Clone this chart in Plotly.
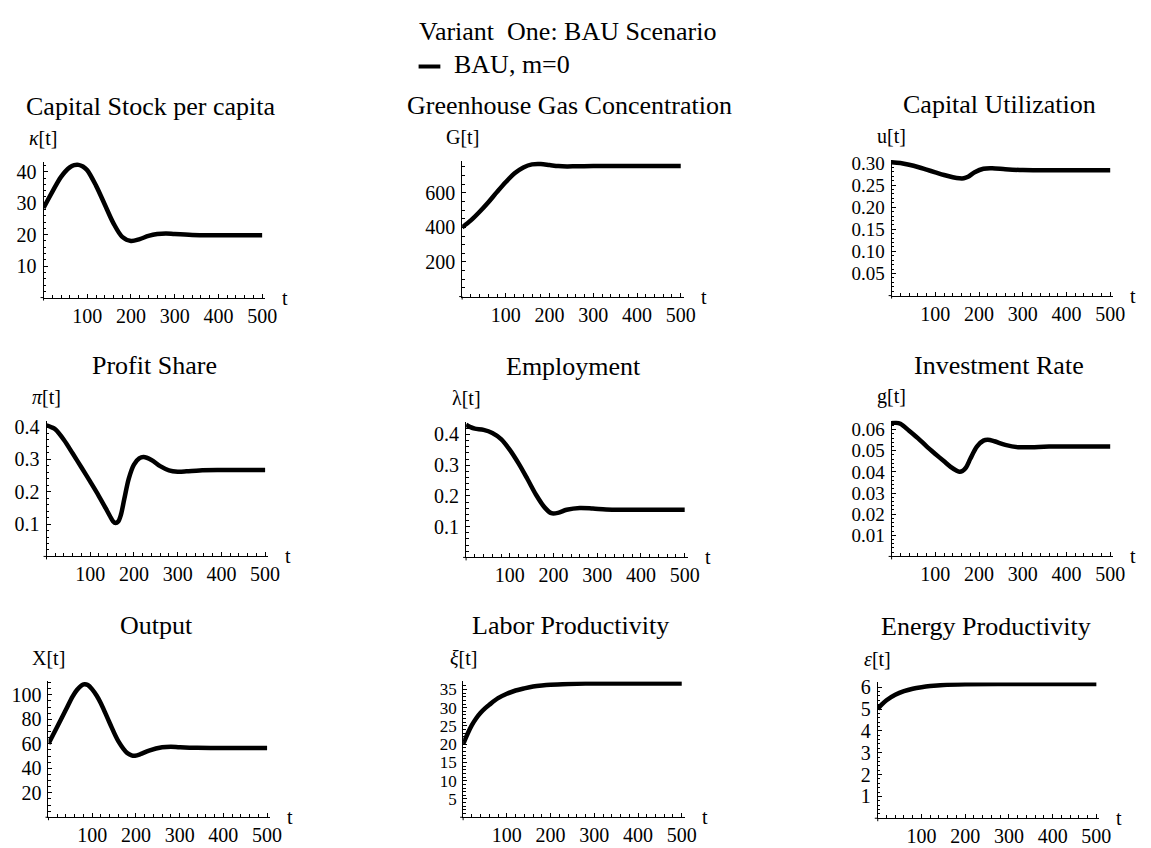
import plotly.graph_objects as go

FONT = "Liberation Serif"
W, H = 1151, 848

# ---- simulated trajectories (BAU, m=0) ----
t_kappa = [0, 20, 40, 60, 70, 80, 90, 100, 120, 140, 160, 180, 200, 220, 240, 260, 280, 300, 340, 380, 440, 500]
kappa = [28.5, 33.6, 38.4, 41.4, 42.1, 42.2, 41.7, 40.5, 35.6, 29.6, 23.6, 19.3, 18.0, 18.6, 19.6, 20.2, 20.4, 20.2, 19.9, 19.8, 19.8, 19.8]

t_G = [0, 20, 40, 60, 80, 100, 120, 140, 160, 180, 200, 220, 240, 260, 300, 400, 500]
G = [400, 440, 490, 545, 605, 662, 712, 746, 764, 766, 760, 754, 752, 753, 755, 755, 755]

t_u = [0, 20, 40, 60, 80, 100, 120, 140, 155, 165, 175, 190, 210, 230, 260, 300, 340, 420, 500]
u = [0.302, 0.300, 0.296, 0.291, 0.285, 0.279, 0.273, 0.268, 0.2655, 0.2655, 0.269, 0.279, 0.287, 0.288, 0.286, 0.284, 0.2835, 0.2835, 0.2835]

t_pi = [0, 10, 20, 40, 60, 80, 100, 120, 135, 145, 152, 158, 164, 170, 178, 188, 200, 212, 222, 240, 260, 280, 300, 320, 350, 400, 500]
pi_share = [0.405, 0.400, 0.393, 0.360, 0.318, 0.275, 0.231, 0.186, 0.150, 0.125, 0.109, 0.103, 0.108, 0.128, 0.178, 0.240, 0.284, 0.303, 0.307, 0.298, 0.279, 0.266, 0.262, 0.263, 0.266, 0.267, 0.267]

t_lam = [0, 10, 20, 40, 60, 80, 100, 120, 140, 160, 180, 195, 210, 230, 260, 290, 320, 360, 500]
lam = [0.432, 0.424, 0.419, 0.415, 0.405, 0.385, 0.350, 0.306, 0.256, 0.204, 0.162, 0.144, 0.145, 0.155, 0.161, 0.159, 0.156, 0.155, 0.155]

t_g = [0, 10, 20, 40, 60, 80, 100, 120, 135, 147, 155, 162, 170, 180, 195, 210, 220, 235, 260, 290, 320, 360, 500]
g = [0.0632, 0.0633, 0.0628, 0.0595, 0.0560, 0.0521, 0.0485, 0.0450, 0.0424, 0.0408, 0.0401, 0.0404, 0.0420, 0.0462, 0.0520, 0.0548, 0.0552, 0.0545, 0.0528, 0.0517, 0.0517, 0.0520, 0.0520]

t_X = [0, 20, 40, 55, 65, 75, 82, 90, 100, 110, 120, 140, 160, 180, 190, 198, 210, 230, 260, 280, 300, 340, 500]
X = [60, 74, 88, 98.6, 104, 107.6, 108.6, 108, 104.5, 99.5, 93, 77, 62, 52.5, 50.6, 50.3, 51.5, 54.5, 57.2, 57.6, 57.2, 56.7, 56.6]

t_xi = [0, 10, 20, 30, 40, 50, 60, 80, 100, 120, 140, 160, 180, 200, 240, 280, 500]
xi = [20.0, 22.8, 25.2, 27.1, 28.6, 29.8, 30.8, 32.6, 33.8, 34.7, 35.3, 35.8, 36.1, 36.3, 36.5, 36.6, 36.6]

t_eps = [0, 10, 20, 40, 60, 80, 100, 120, 150, 200, 300, 500]
eps = [5.0, 5.22, 5.4, 5.65, 5.82, 5.93, 6.0, 6.05, 6.1, 6.13, 6.15, 6.15]

# ---- panel titles, axis labels and ticks ----
titles = ["Capital Stock per capita", "Greenhouse Gas Concentration", "Capital Utilization",
          "Profit Share", "Employment", "Investment Rate",
          "Output", "Labor Productivity", "Energy Productivity"]
ylabels = ["<i>κ</i>[t]", "G[t]", "u[t]", "<i>π</i>[t]", "λ[t]", "g[t]", "X[t]", "<i>ξ</i>[t]", "<i>ε</i>[t]"]
series = [(t_kappa, kappa), (t_G, G), (t_u, u), (t_pi, pi_share), (t_lam, lam),
          (t_g, g), (t_X, X), (t_xi, xi), (t_eps, eps)]
ymax = [43.2, 785, 0.3075, 0.42, 0.442, 0.0643, 111, 37.2, 6.22]
ytick_vals = [[10, 20, 30, 40], [200, 400, 600],
              [0.05, 0.10, 0.15, 0.20, 0.25, 0.30],
              [0.1, 0.2, 0.3, 0.4], [0.1, 0.2, 0.3, 0.4],
              [0.01, 0.02, 0.03, 0.04, 0.05, 0.06],
              [20, 40, 60, 80, 100], [5, 10, 15, 20, 25, 30, 35], [1, 2, 3, 4, 5, 6]]
ytick_text = [["10", "20", "30", "40"], ["200", "400", "600"],
              ["0.05", "0.10", "0.15", "0.20", "0.25", "0.30"],
              ["0.1", "0.2", "0.3", "0.4"], ["0.1", "0.2", "0.3", "0.4"],
              ["0.01", "0.02", "0.03", "0.04", "0.05", "0.06"],
              ["20", "40", "60", "80", "100"], ["5", "10", "15", "20", "25", "30", "35"],
              ["1", "2", "3", "4", "5", "6"]]
yminor = [2, 50, 0.01, 0.02, 0.02, 0.002, 5, 1, 0.2]
ytick_size = [20, 20, 19, 20, 20, 19, 20, 17, 20]
xtick_vals = [100, 200, 300, 400, 500]
xtick_text = ["100", "200", "300", "400", "500"]

# ---- panel placement (pixels: left edge of plot area, bottom edge) ----
boxes = [(44, 293), (467, 292), (901, 291),
         (47, 554), (471, 555), (901, 554),
         (49, 817), (468, 817), (887, 818)]
T_MAX = 507
PLOT_W = 224
PLOT_H = 137


def px(x):
    return x / W


def py(y):
    return 1 - y / H


fig = go.Figure()
annotations = []
shapes = []
layout = {}

for i in range(9):
    n = "" if i == 0 else str(i + 1)
    left, bottom = boxes[i]
    top = bottom - PLOT_H
    right = left + PLOT_W
    tt, vv = series[i]
    fig.add_trace(go.Scatter(
        x=tt, y=vv, mode="lines", xaxis="x" + n, yaxis="y" + n,
        line=dict(color="black", width=4.5, shape="spline", smoothing=0.9),
        showlegend=False, hoverinfo="skip"))

    layout["xaxis" + n] = dict(
        domain=[px(left), px(right)], anchor="y" + n, range=[0, T_MAX],
        showgrid=False, zeroline=False, showline=True, linecolor="black", linewidth=1,
        ticks="inside", ticklen=4, tickcolor="black", tickwidth=1,
        tickvals=xtick_vals, ticktext=xtick_text,
        tickfont=dict(family=FONT, size=20, color="black"),
        minor=dict(ticks="inside", ticklen=3, tickcolor="black", dtick=20, tick0=0),
        fixedrange=True)
    layout["yaxis" + n] = dict(
        domain=[py(bottom), py(top)], anchor="x" + n, range=[0, ymax[i]],
        showgrid=False, zeroline=False, showline=True, linecolor="black", linewidth=1,
        ticks="inside", ticklen=4, tickcolor="black", tickwidth=1,
        tickvals=ytick_vals[i], ticktext=ytick_text[i],
        tickfont=dict(family=FONT, size=ytick_size[i], color="black"),
        minor=dict(ticks="inside", ticklen=2.5, tickcolor="black", dtick=yminor[i], tick0=0),
        ticklabelstandoff=2,
        fixedrange=True)

    # small overhang of both axes at the origin
    shapes.append(dict(type="line", xref="paper", yref="paper",
                       x0=px(left - 3), x1=px(left), y0=py(bottom), y1=py(bottom),
                       line=dict(color="black", width=1)))
    shapes.append(dict(type="line", xref="paper", yref="paper",
                       x0=px(left), x1=px(left), y0=py(bottom), y1=py(bottom + 3),
                       line=dict(color="black", width=1)))

    # panel title
    annotations.append(dict(
        text=titles[i], x=px((left + right) / 2 - 3), y=py(top - 56),
        xref="paper", yref="paper", xanchor="center", yanchor="middle",
        showarrow=False, font=dict(family=FONT, size=26, color="black")))
    # vertical axis label
    annotations.append(dict(
        text=ylabels[i], x=px(left), y=py(top - 24),
        xref="paper", yref="paper", xanchor="center", yanchor="middle",
        showarrow=False, font=dict(family=FONT, size=20, color="black")))
    # horizontal axis label
    annotations.append(dict(
        text="t", x=px(right + 15), y=py(bottom),
        xref="paper", yref="paper", xanchor="left", yanchor="middle",
        showarrow=False, font=dict(family=FONT, size=20, color="black")))

# header and legend
annotations.append(dict(
    text="Variant\u00a0 One: BAU Scenario", x=px(573), y=py(25),
    xref="paper", yref="paper", xanchor="center", yanchor="middle",
    showarrow=False, font=dict(family=FONT, size=26, color="black")))
annotations.append(dict(
    text="BAU, m=0", x=px(457), y=py(58),
    xref="paper", yref="paper", xanchor="left", yanchor="middle",
    showarrow=False, font=dict(family=FONT, size=26, color="black")))
shapes.append(dict(type="line", xref="paper", yref="paper",
                   x0=px(423), x1=px(445), y0=py(60), y1=py(60),
                   line=dict(color="black", width=4)))

fig.update_layout(
    width=W, height=H, margin=dict(l=0, r=0, t=0, b=0),
    paper_bgcolor="white", plot_bgcolor="white",
    annotations=annotations, shapes=shapes, showlegend=False, **layout)

fig.write_html("out.html", config={"displayModeBar": False})
